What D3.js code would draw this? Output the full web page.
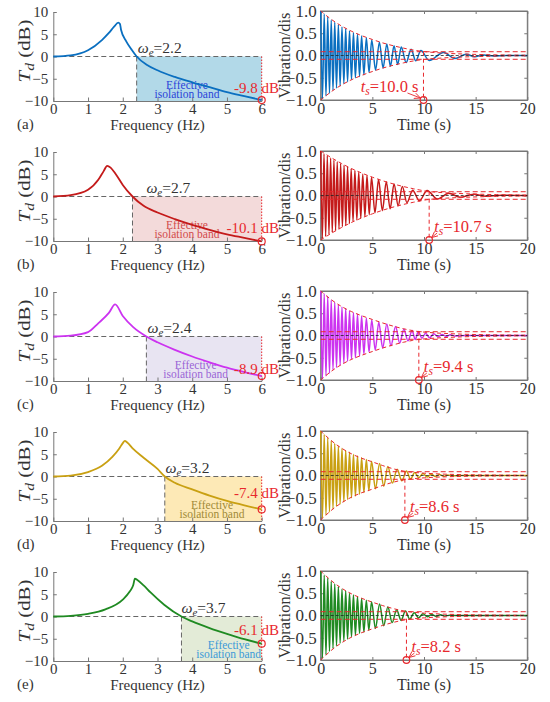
<!DOCTYPE html>
<html>
<head>
<meta charset="utf-8">
<script src="https://d3js.org/d3.v7.min.js"></script>
<style>
body { margin: 0; background: #fff; }
</style>
</head>
<body>
<script>
// ---- data ----
var panelTags = ["(a)", "(b)", "(c)", "(d)", "(e)"];
var omegaLabels = ["2.2", "2.7", "2.4", "3.2", "3.7"];
var bandStart = [2.4, 2.28, 2.68, 3.21, 3.69];     // Hz where T_d crosses 0 dB
var endDb = [-9.8, -10.1, -8.9, -7.4, -6.1];
var settleLabels = ["10.0", "10.7", "9.4", "8.6", "8.2"];
var settleAt = [9.95, 10.5, 9.5, 8.15, 8.3];       // where the marker sits on the time axis
var settleBand = 0.085;

var freqTicks = [0, 1, 2, 3, 4, 5, 6];
var dbTicks = [-10, -5, 0, 5, 10];
var timeTicks = [0, 5, 10, 15, 20];
var vibTicks = [-1, -0.5, 0, 0.5, 1];

// transmissibility curves [Hz, dB]
var tdA = [[0,0],[0.5,0.25],[1,1.4],[1.4,3.7],[1.6,5.3],[1.75,6.7],[1.87,7.6],[1.92,7.3],[1.95,6.0],[2.1,3.4],[2.25,1.6],[2.4,0],[2.7,-1.9],[3,-3.1],[3.5,-4.6],[4,-5.8],[4.5,-6.9],[5,-8.0],[5.5,-8.9],[6,-9.8]];
var tdB = [[0,0],[0.5,0.3],[1,1.5],[1.3,3.8],[1.45,5.7],[1.55,6.9],[1.65,6.5],[1.8,5.0],[2,2.6],[2.28,0],[2.6,-2.1],[3,-3.6],[3.5,-5.1],[4,-6.4],[4.5,-7.5],[5,-8.5],[5.5,-9.3],[6,-10.1]];
var tdC = [[0,0],[0.5,0.2],[1,1.0],[1.3,3.0],[1.6,5.3],[1.78,7.2],[2,4.6],[2.3,2.1],[2.68,0],[3,-1.3],[3.5,-3.0],[4,-4.5],[4.5,-5.8],[5,-7.0],[5.5,-8.0],[6,-8.9]];
var tdD = [[0,0],[0.5,0.2],[1,1.0],[1.4,2.4],[1.7,4.4],[1.9,6.3],[2.0,7.5],[2.06,8.0],[2.12,7.7],[2.3,6.2],[2.6,4.2],[3,1.7],[3.21,0],[3.5,-1.4],[4,-2.9],[4.5,-4.3],[5,-5.5],[5.5,-6.5],[6,-7.4]];
var tdE = [[0,0],[0.5,0.15],[1,0.6],[1.5,1.6],[2,3.8],[2.2,5.6],[2.3,7.0],[2.35,8.5],[2.42,8.2],[2.6,7.0],[2.8,5.4],[3.2,2.6],[3.69,0],[4,-1.1],[4.5,-2.6],[5,-3.9],[5.5,-5.1],[6,-6.1]];

// vibration extrema [s, value]
var vibA = [[0,1],[0.17,-0.97],[0.34,0.93],[0.51,-0.91],[0.68,0.87],[0.85,-0.85],[1.02,0.8],[1.19,-0.78],[1.36,0.75],[1.53,-0.73],[1.71,0.69],[1.88,-0.68],[2.06,0.64],[2.24,-0.63],[2.42,0.6],[2.6,-0.59],[2.79,0.55],[2.98,-0.54],[3.17,0.51],[3.36,-0.5],[3.56,0.48],[3.76,-0.47],[3.96,0.44],[4.18,-0.43],[4.42,0.4],[4.68,-0.38],[4.94,0.35],[5.31,-0.33],[5.68,0.3],[6.04,-0.28],[6.4,0.26],[6.75,-0.24],[7.1,0.22],[7.45,-0.2],[7.8,0.19],[8.27,-0.16],[8.75,0.14],[9.2,-0.12],[9.7,0.11],[10.5,-0.11],[11.9,0.07],[13.0,-0.07],[14.1,0.03],[14.9,-0.03],[15.8,0.012],[16.7,-0.01],[18,0],[20,0]];
var vibB = [[0,1],[0.16,-0.97],[0.32,0.94],[0.48,-0.92],[0.64,0.89],[0.8,-0.87],[0.96,0.84],[1.12,-0.83],[1.28,0.8],[1.44,-0.79],[1.6,0.76],[1.77,-0.75],[1.93,0.72],[2.1,-0.7],[2.26,0.68],[2.43,-0.67],[2.6,0.64],[2.78,-0.63],[2.95,0.6],[3.13,-0.58],[3.31,0.56],[3.5,-0.55],[3.68,0.52],[3.88,-0.51],[4.07,0.48],[4.28,-0.47],[4.48,0.45],[4.7,-0.43],[4.92,0.41],[5.25,-0.39],[5.6,0.36],[5.97,-0.34],[6.35,0.31],[6.72,-0.3],[7.1,0.26],[7.5,-0.23],[7.9,0.2],[8.35,-0.16],[8.9,0.12],[9.55,-0.12],[10.3,0.11],[11.3,-0.08],[12.4,0.05],[13.5,-0.04],[14.8,0.03],[16.0,-0.015],[17.5,0.005],[20,0]];
var vibC = [[0,1],[0.17,-0.97],[0.34,0.94],[0.51,-0.91],[0.68,0.88],[0.85,-0.85],[1.02,0.8],[1.19,-0.77],[1.36,0.75],[1.53,-0.72],[1.71,0.69],[1.88,-0.67],[2.06,0.64],[2.24,-0.62],[2.42,0.6],[2.6,-0.58],[2.79,0.55],[2.98,-0.53],[3.17,0.51],[3.36,-0.5],[3.56,0.48],[3.76,-0.46],[3.96,0.44],[4.18,-0.42],[4.42,0.39],[4.68,-0.37],[4.94,0.35],[5.28,-0.33],[5.62,0.3],[6.0,-0.28],[6.4,0.26],[6.8,-0.23],[7.25,0.2],[7.65,-0.17],[8.05,0.14],[8.45,-0.12],[8.85,0.11],[9.15,-0.09],[9.45,0.09],[9.8,-0.06],[10.15,0.05],[10.55,-0.05],[10.95,0.04],[11.35,-0.03],[11.75,0.025],[12.15,-0.02],[12.55,0.015],[13.0,-0.01],[14,0],[20,0]];
var vibD = [[0,1],[0.17,-0.96],[0.34,0.92],[0.51,-0.89],[0.68,0.85],[0.85,-0.82],[1.02,0.78],[1.19,-0.75],[1.36,0.72],[1.53,-0.69],[1.71,0.66],[1.88,-0.64],[2.06,0.61],[2.24,-0.59],[2.42,0.56],[2.6,-0.54],[2.79,0.52],[2.98,-0.5],[3.17,0.47],[3.36,-0.46],[3.56,0.44],[3.76,-0.42],[3.96,0.4],[4.18,-0.38],[4.42,0.36],[4.66,-0.34],[4.92,0.32],[5.3,-0.3],[5.7,0.27],[6.1,-0.24],[6.5,0.2],[6.95,-0.17],[7.4,0.14],[7.85,-0.12],[8.3,0.1],[8.7,-0.08],[9.1,0.065],[9.5,-0.05],[9.9,0.045],[10.3,-0.035],[10.7,0.03],[11.1,-0.025],[11.5,0.02],[11.9,-0.015],[12.3,0.012],[12.7,-0.008],[13.5,0],[20,0]];
var vibE = [[0,1],[0.17,-0.96],[0.34,0.91],[0.51,-0.88],[0.68,0.84],[0.85,-0.81],[1.02,0.77],[1.19,-0.74],[1.36,0.71],[1.53,-0.68],[1.71,0.65],[1.88,-0.62],[2.06,0.59],[2.24,-0.57],[2.42,0.55],[2.6,-0.53],[2.79,0.5],[2.98,-0.48],[3.17,0.46],[3.36,-0.44],[3.56,0.42],[3.76,-0.4],[3.96,0.38],[4.18,-0.37],[4.42,0.34],[4.66,-0.33],[4.92,0.31],[5.3,-0.29],[5.7,0.26],[6.1,-0.23],[6.5,0.19],[6.92,-0.16],[7.35,0.13],[7.78,-0.11],[8.2,0.1],[8.62,-0.08],[9.05,0.06],[9.48,-0.05],[9.9,0.04],[10.32,-0.03],[10.75,0.025],[11.17,-0.02],[11.6,0.015],[12.0,-0.01],[12.5,0.005],[13.5,0],[20,0]];

// decay envelopes (upper half, mirrored for the lower one)
var envA = [[0,1],[1,0.81],[2,0.66],[3,0.54],[4,0.44],[5,0.36],[6,0.28],[7,0.22],[8,0.165],[9,0.12],[9.95,0.085],[12,0.05],[14,0.03],[17,0.013],[20,0.006]];
var envB = [[0,1],[1,0.85],[2,0.72],[3,0.6],[4,0.5],[5,0.41],[6,0.33],[7,0.26],[8,0.2],[9,0.15],[10,0.105],[10.5,0.085],[12,0.06],[14,0.038],[17,0.018],[20,0.009]];
var envC = [[0,1],[1,0.8],[2,0.65],[3,0.53],[4,0.44],[5,0.36],[6,0.28],[7,0.21],[8,0.15],[9,0.105],[9.5,0.085],[11,0.058],[13,0.034],[16,0.015],[20,0.006]];
var envD = [[0,1],[1,0.78],[2,0.61],[3,0.48],[4,0.38],[5,0.31],[6,0.22],[7,0.15],[8.15,0.085],[10,0.05],[12,0.028],[15,0.012],[20,0.004]];
var envE = [[0,1],[1,0.78],[2,0.61],[3,0.48],[4,0.38],[5,0.3],[6,0.22],[7,0.155],[8.3,0.085],[10,0.05],[12,0.028],[15,0.012],[20,0.004]];

// ---- styling / layout ----
var lineColors = ["#0a6fc0", "#c41a1a", "#cc33f0", "#c9a012", "#1f8a22"];
var bandFills = ["#b2d9e8", "#f3dada", "#e8e4f2", "#fde9b6", "#e3ebd7"];
var bandTextColors = ["#2a44d8", "#d24a4a", "#9a64d6", "#a08a36", "#3b9ad8"];
var bandTextX = [3.85, 3.85, 4.1, 4.57, 5.05];
var omegaX = [2.43, 2.68, 2.71, 3.23, 3.69];
var endLabelY = [93, 92.5, 94, 77.5, 75];
var settleLabelLeft = [true, false, false, false, false];
var red = "#e8282d";
var serif = "'Liberation Serif', 'Times New Roman', serif";
var step = 140;

var tds = [tdA, tdB, tdC, tdD, tdE];
var vibs = [vibA, vibB, vibC, vibD, vibE];
var envs = [envA, envB, envC, envD, envE];

var svg = d3.select("body").append("svg").attr("width", 550).attr("height", 702)
  .attr("font-family", serif).style("fill", "#333");

svg.append("defs").append("marker")
  .attr("id", "arr").attr("viewBox", "0 0 8 8").attr("refX", 7.5).attr("refY", 4)
  .attr("markerUnits", "userSpaceOnUse").attr("markerWidth", 7).attr("markerHeight", 7)
  .attr("orient", "auto")
  .append("path").attr("d", "M0.5,0.8L7.5,4L0.5,7.2").attr("fill", "none")
  .attr("stroke", red).attr("stroke-width", 1);

var xF = d3.scaleLinear().domain([0, 6]).range([53.3, 261.7]);
var yD = d3.scaleLinear().domain([-10, 10]).range([101, 12]);
var xT = d3.scaleLinear().domain([0, 20]).range([320.7, 527.3]);
var yV = d3.scaleLinear().domain([-1, 1]).range([100, 11]);

function styleAxis(g, size) {
  g.attr("font-family", serif).attr("font-size", size);
  g.select(".domain").attr("stroke", "#777").attr("stroke-width", 1);
  g.selectAll(".tick line").attr("stroke", "#777");
  g.selectAll(".tick text").attr("fill", "#333");
}

var tdLine = d3.line().x(function(d){ return xF(d[0]); }).y(function(d){ return yD(d[1]); }).curve(d3.curveMonotoneX);
var vibLine = d3.line().x(function(d){ return xT(d[0]); }).y(function(d){ return yV(d[1]); }).curve(d3.curveMonotoneX);
var envUp = d3.line().x(function(d){ return xT(d[0]); }).y(function(d){ return yV(d[1]); }).curve(d3.curveBasis);
var envDown = d3.line().x(function(d){ return xT(d[0]); }).y(function(d){ return yV(-d[1]); }).curve(d3.curveBasis);

panelTags.forEach(function(tag, i) {
  var g = svg.append("g").attr("transform", "translate(0," + (step * i) + ")");
  var col = lineColors[i];

  // ---------- left: transmissibility ----------
  var x0 = xF(bandStart[i]);
  g.append("rect").attr("x", x0).attr("y", yD(0))
    .attr("width", xF(6) - x0).attr("height", yD(-10) - yD(0))
    .attr("fill", bandFills[i]);

  g.append("line").attr("x1", xF(0)).attr("x2", xF(6)).attr("y1", yD(0)).attr("y2", yD(0))
    .attr("stroke", "#666").attr("stroke-dasharray", "5,3").attr("stroke-width", 1);
  g.append("line").attr("x1", x0).attr("x2", x0).attr("y1", yD(0)).attr("y2", yD(-10))
    .attr("stroke", "#666").attr("stroke-dasharray", "5,3").attr("stroke-width", 1);
  g.append("line").attr("x1", xF(6)).attr("x2", xF(6)).attr("y1", yD(0)).attr("y2", yD(-10))
    .attr("stroke", red).attr("stroke-dasharray", "1.5,1.5").attr("stroke-width", 1);

  var ax = g.append("g").attr("transform", "translate(0," + yD(-10) + ")")
    .call(d3.axisBottom(xF).tickValues(freqTicks).tickSize(-3.5).tickSizeOuter(0).tickPadding(2.5).tickFormat(d3.format("d")));
  styleAxis(ax, 15);
  var ay = g.append("g").attr("transform", "translate(" + xF(0) + ",0)")
    .call(d3.axisLeft(yD).tickValues(dbTicks).tickSize(-3.5).tickSizeOuter(0).tickPadding(5));
  styleAxis(ay, 15);

  var bt = g.append("text").attr("text-anchor", "middle").attr("font-size", 11.5).style("fill", bandTextColors[i]);
  bt.append("tspan").attr("x", xF(bandTextX[i])).attr("y", 88.5).text("Effective");
  bt.append("tspan").attr("x", xF(bandTextX[i])).attr("y", 98).text("isolation band");

  g.append("path").datum(tds[i]).attr("d", tdLine)
    .attr("fill", "none").attr("stroke", col).attr("stroke-width", 1.8);

  g.append("circle").attr("cx", xF(6)).attr("cy", yD(endDb[i])).attr("r", 3.5)
    .attr("fill", "none").attr("stroke", red).attr("stroke-width", 1.2);

  g.append("text").attr("x", 279).attr("y", endLabelY[i]).attr("text-anchor", "end")
    .attr("font-size", 15).style("fill", red).text(endDb[i].toFixed(1) + " dB");

  var om = g.append("text").attr("x", xF(omegaX[i])).attr("y", 52.5).attr("font-size", 15.5);
  om.append("tspan").attr("font-style", "italic").text("ω");
  om.append("tspan").attr("font-style", "italic").attr("font-size", 11).attr("dy", 3.5).text("e");
  om.append("tspan").attr("dy", -3.5).text("=" + omegaLabels[i]);

  var tl = g.append("text").attr("text-anchor", "middle").attr("font-size", 16)
    .attr("transform", "translate(30," + 51 + ") rotate(-90)")
    .attr("textLength", 63).attr("lengthAdjust", "spacingAndGlyphs");
  tl.append("tspan").attr("font-style", "italic").text("T");
  tl.append("tspan").attr("font-style", "italic").attr("font-size", 12).attr("dy", 4).text("d");
  tl.append("tspan").attr("dy", -4).text(" (dB)");

  g.append("text").attr("x", xF(3)).attr("y", 129.5).attr("text-anchor", "middle")
    .attr("font-size", 15).text("Frequency (Hz)");
  g.append("text").attr("x", 17).attr("y", 129).attr("font-size", 15).text(tag);

  // ---------- right: vibration decay ----------
  g.append("rect").attr("x", xT(0)).attr("y", yV(1)).attr("width", xT(20) - xT(0)).attr("height", yV(-1) - yV(1))
    .attr("fill", "none").attr("stroke", "#777").attr("stroke-width", 1);

  var bx = g.append("g").attr("transform", "translate(0," + yV(-1) + ")")
    .call(d3.axisBottom(xT).tickValues(timeTicks).tickSize(-3).tickSizeOuter(0).tickPadding(2.5));
  styleAxis(bx, 16);
  var tx = g.append("g").attr("transform", "translate(0," + yV(1) + ")")
    .call(d3.axisTop(xT).tickValues(timeTicks).tickSize(-3).tickSizeOuter(0).tickFormat(""));
  styleAxis(tx, 16);
  var by = g.append("g").attr("transform", "translate(" + xT(0) + ",0)")
    .call(d3.axisLeft(yV).tickValues(vibTicks).tickSize(-3).tickSizeOuter(0).tickPadding(4).tickFormat(d3.format(".1f")));
  styleAxis(by, 17);
  var ry = g.append("g").attr("transform", "translate(" + xT(20) + ",0)")
    .call(d3.axisRight(yV).tickValues(vibTicks).tickSize(-3).tickSizeOuter(0).tickFormat(""));
  styleAxis(ry, 17);

  g.append("path").datum(vibs[i]).attr("d", vibLine)
    .attr("fill", "none").attr("stroke", col).attr("stroke-width", 1.5);

  g.append("path").datum(envs[i]).attr("d", envUp)
    .attr("fill", "none").attr("stroke", red).attr("stroke-width", 1).attr("stroke-dasharray", "4,3");
  g.append("path").datum(envs[i]).attr("d", envDown)
    .attr("fill", "none").attr("stroke", red).attr("stroke-width", 1).attr("stroke-dasharray", "4,3");

  g.append("line").attr("x1", xT(0)).attr("x2", xT(20)).attr("y1", yV(0)).attr("y2", yV(0))
    .attr("stroke", "#222").attr("stroke-width", 0.8).attr("stroke-dasharray", "3,2");
  [settleBand, -settleBand].forEach(function(v) {
    g.append("line").attr("x1", xT(0)).attr("x2", xT(20)).attr("y1", yV(v)).attr("y2", yV(v))
      .attr("stroke", red).attr("stroke-width", 1).attr("stroke-dasharray", "5,3");
  });

  var cx = xT(settleAt[i]), cy = yV(-1);
  g.append("line").attr("x1", cx).attr("x2", cx).attr("y1", yV(settleBand)).attr("y2", cy)
    .attr("stroke", red).attr("stroke-width", 1).attr("stroke-dasharray", "4,3");
  g.append("circle").attr("cx", cx).attr("cy", cy).attr("r", 3.3)
    .attr("fill", "none").attr("stroke", red).attr("stroke-width", 1.2);

  var left = settleLabelLeft[i];
  g.append("line")
    .attr("x1", left ? cx - 16 : cx + 8).attr("y1", cy - 7)
    .attr("x2", left ? cx - 3 : cx + 2.5).attr("y2", left ? cy - 2 : cy - 2.5)
    .attr("stroke", red).attr("stroke-width", 0.9).attr("marker-end", "url(#arr)");

  var sl = g.append("text").attr("x", left ? cx - 5 : cx + 5).attr("y", 91.5)
    .attr("text-anchor", left ? "end" : "start").attr("font-size", 16.5).style("fill", red);
  sl.append("tspan").attr("font-style", "italic").text("t");
  sl.append("tspan").attr("font-style", "italic").attr("font-size", 11.5).attr("dy", 3.5).text("s");
  sl.append("tspan").attr("dy", -3.5).text("=" + settleLabels[i] + " s");

  g.append("text").attr("text-anchor", "middle").attr("font-size", 16.5)
    .attr("transform", "translate(290," + yV(0) + ") rotate(-90)").text("Vibration/dis");
  g.append("text").attr("x", xT(10)).attr("y", 130).attr("text-anchor", "middle")
    .attr("font-size", 16).text("Time (s)");
});
</script>
</body>
</html>
